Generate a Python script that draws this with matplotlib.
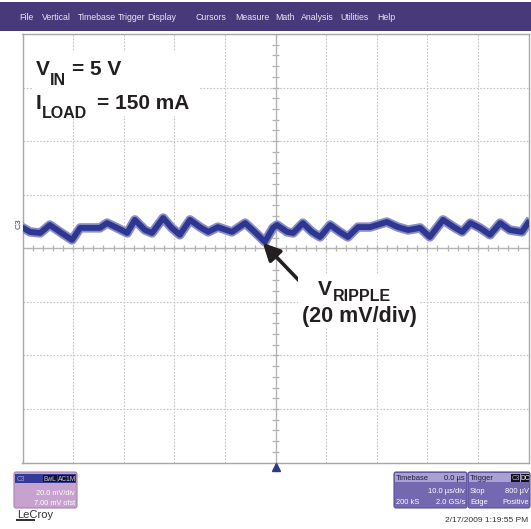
import numpy as np
import matplotlib.pyplot as plt
from matplotlib.patches import Rectangle, FancyBboxPatch

W, H = 531, 529

# Channel 3 ripple trace (time in us, level in mV)
trace_t = [-49.9, -48.5, -46.5, -44.6, -42.6, -40.2, -38.6, -36.7, -34.7, -33.3,
           -31.3, -29.3, -27.8, -25.8, -24.4, -22.2, -20.5, -18.9, -16.9, -14.9,
           -13.3, -11.4, -8.6, -6.0, -4.1, -2.1, -0.5, 0.3, 2.3, 3.5,
           5.4, 7.2, 8.8, 10.8, 12.7, 14.3, 16.3, 18.7, 22.0, 24.2,
           26.2, 28.6, 30.5, 33.1, 35.5, 36.9, 38.5, 40.4, 42.4, 44.4,
           46.3, 48.7, 49.9]
trace_mv = [7.6, 6.1, 5.7, 8.7, 6.1, 3.1, 7.6, 7.6, 7.6, 9.4,
            7.6, 5.7, 10.6, 6.8, 5.7, 11.3, 7.6, 5.0, 10.6, 7.9,
            6.1, 7.9, 6.1, 9.4, 6.1, 2.4, 7.6, 8.7, 6.1, 5.7,
            9.4, 6.1, 4.2, 8.7, 6.1, 4.2, 7.9, 7.9, 9.8, 7.9,
            6.8, 7.6, 4.2, 10.6, 7.6, 6.1, 9.4, 7.6, 5.0, 9.4,
            6.8, 6.1, 9.4]

menu_items = ['File', 'Vertical', 'Timebase', 'Trigger', 'Display', 'Cursors',
              'Measure', 'Math', 'Analysis', 'Utilities', 'Help']
menu_x = [19, 42, 78, 118, 147, 196, 235, 275, 301, 340, 377]

t_div, mv_div = 10.0, 20.0
n_xdiv, n_ydiv = 10, 8

ui = ['Liberation Sans', 'DejaVu Sans']
bold = ['Liberation Sans', 'DejaVu Sans']


def px(x, y):
    return x / W, 1 - y / H


def prect(x0, y0, x1, y1, **kw):
    return Rectangle(px(x0, y1), (x1 - x0) / W, (y1 - y0) / H,
                     transform=fig.transFigure, **kw)


def ptext(x, y, s, **kw):
    kw.setdefault('va', 'baseline')
    return fig.text(*px(x, y), s, **kw)


fig = plt.figure(figsize=(W / 100, H / 100), dpi=100)
fig.patch.set_facecolor('white')

left, right, top, bottom = 22.5, 528.5, 34, 462.5
ax = fig.add_axes([left / W, 1 - bottom / H, (right - left) / W, (bottom - top) / H])
xlim = n_xdiv / 2 * t_div
ylim = n_ydiv / 2 * mv_div
ax.set_xlim(-xlim, xlim)
ax.set_ylim(-ylim, ylim)
ax.set_xticks([])
ax.set_yticks([])
for s in ax.spines.values():
    s.set_color('#a8a8a8')
    s.set_linewidth(1.0)

# graticule
for k in range(1, n_xdiv):
    x = -xlim + k * t_div
    if k != n_xdiv // 2:
        ax.axvline(x, color='#c4c4c4', lw=0.8, ls=(0, (1.5, 1.5)), zorder=1)
for k in range(1, n_ydiv):
    y = -ylim + k * mv_div
    if k != n_ydiv // 2:
        ax.axhline(y, color='#c4c4c4', lw=0.8, ls=(0, (1.5, 1.5)), zorder=1)
ax.axhline(0, color='#b4b4b4', lw=1.0, zorder=1)
ax.axvline(0, color='#b4b4b4', lw=1.0, zorder=1)
ax.vlines(np.arange(-xlim, xlim + 0.1, t_div / 5), -1.1, 1.1, color='#b4b4b4', lw=0.9, zorder=1)
ax.hlines(np.arange(-ylim, ylim + 0.1, mv_div / 5), -0.6, 0.6, color='#b4b4b4', lw=0.9, zorder=1)

# white panels behind the annotation text
fig.patches.append(prect(33, 52, 200, 116, facecolor='white', edgecolor='none', zorder=2))
fig.patches.append(prect(298, 275, 420, 328, facecolor='white', edgecolor='none', zorder=2))

# trace
ax.plot(trace_t, trace_mv, color='#8a8dcc', lw=6.8, zorder=3)
ax.plot(trace_t, trace_mv, color='#2e3790', lw=4.2, zorder=4)

# trigger marker
ax.plot([0], [-81.8], marker='^', color='#2e3790', ms=6, clip_on=False, zorder=5)

# arrow to the ripple
ax.annotate('', xy=(-2.5, 2.0), xytext=(6.8, -16.3),
            arrowprops=dict(arrowstyle='-|>', lw=2.6, color='#231f20',
                            mutation_scale=26, shrinkA=0, shrinkB=0), zorder=6)

# annotation text
tc = '#231f20'
big, sub = 15, 11.5
ptext(36, 75, 'V', fontsize=big, fontweight='bold', family=bold, color=tc, zorder=5)
ptext(50, 85, 'IN', fontsize=sub, fontweight='bold', family=bold, color=tc, zorder=5)
ptext(72, 75, '= 5 V', fontsize=big, fontweight='bold', family=bold, color=tc, zorder=5)
ptext(36, 109, 'I', fontsize=big, fontweight='bold', family=bold, color=tc, zorder=5)
ptext(42, 118, 'LOAD', fontsize=sub, fontweight='bold', family=bold, color=tc, zorder=5)
ptext(97, 109, '= 150 mA', fontsize=big, fontweight='bold', family=bold, color=tc, zorder=5)
ptext(318, 295, 'V', fontsize=big, fontweight='bold', family=bold, color=tc, zorder=5)
ptext(333, 301, 'RIPPLE', fontsize=11.5, fontweight='bold', family=bold, color=tc, zorder=5)
ptext(302, 322, '(20 mV/div)', fontsize=15.5, fontweight='bold', family=bold, color=tc, zorder=5)

# C3 channel marker at left
ptext(19, 224, 'C3', fontsize=6, family=ui, color='#3a3f9a', rotation=90,
      ha='center', va='center')

# menu bar
fig.patches.append(prect(0, 2, W, 31, facecolor='#48397a', edgecolor='none'))
for name, x in zip(menu_items, menu_x):
    ptext(x, 20, name, fontsize=6.3, family=ui, color='#e8e6f0')

# channel box, lower left
fig.patches.append(FancyBboxPatch(px(14, 508), 63 / W, 36 / H, boxstyle='round,pad=0,rounding_size=0.004',
                                  transform=fig.transFigure, facecolor='#c7a2cf',
                                  edgecolor='#a583b7', lw=0.8))
fig.patches.append(prect(15, 474, 76, 483, facecolor='#343a98', edgecolor='none'))
fig.patches.append(prect(43, 475, 57, 482, facecolor='#111133', edgecolor='none'))
fig.patches.append(prect(58, 475, 75.5, 482, facecolor='#111133', edgecolor='none'))
ptext(17, 481, 'C3', fontsize=4.8, family=ui, color='#9fa4d8')
ptext(50, 481, 'BwL', fontsize=4.8, family=ui, color='#c8c8dc', ha='center')
ptext(66.7, 481, 'AC1M', fontsize=4.8, family=ui, color='#c8c8dc', ha='center')
ptext(75, 495, '20.0 mV/div', fontsize=5.3, family=ui, color='white', ha='right')
ptext(75, 505, '7.00 mV ofst', fontsize=5.3, family=ui, color='white', ha='right')

# LeCroy
ptext(17, 518, 'LeCroy', fontsize=8, family=ui, color='#333333')
fig.patches.append(prect(16, 519, 35, 520.5, facecolor='#333333', edgecolor='none'))

# timebase and trigger boxes, lower right
for x0, x1 in [(394, 467), (468, 530)]:
    fig.patches.append(FancyBboxPatch(px(x0, 508), (x1 - x0) / W, 36 / H,
                                      boxstyle='round,pad=0,rounding_size=0.004',
                                      transform=fig.transFigure, facecolor='#7468b0',
                                      edgecolor='#5a4f96', lw=0.8))
    fig.patches.append(prect(x0 + 1, 473, x1 - 1, 482, facecolor='#aaa0d4', edgecolor='none'))

fs = 5.4
ptext(396, 480, 'Timebase', fontsize=fs, family=ui, color='#1e1a3a')
ptext(465, 480, '0.0 \u00b5s', fontsize=fs, family=ui, color='#1e1a3a', ha='right')
ptext(465, 493, '10.0 \u00b5s/div', fontsize=fs, family=ui, color='white', ha='right')
ptext(396, 504, '200 kS', fontsize=fs, family=ui, color='white')
ptext(465, 504, '2.0 GS/s', fontsize=fs, family=ui, color='white', ha='right')

ptext(470, 480, 'Trigger', fontsize=fs, family=ui, color='#1e1a3a')
fig.patches.append(prect(511, 474, 520, 481.5, facecolor='#111111', edgecolor='none'))
fig.patches.append(prect(520.5, 474, 529, 481.5, facecolor='#111111', edgecolor='none'))
ptext(515.5, 480, 'C3', fontsize=4.8, family=ui, color='#b0b4e0', ha='center')
ptext(524.8, 480, 'DC', fontsize=4.8, family=ui, color='white', ha='center')
ptext(470, 493, 'Stop', fontsize=fs, family=ui, color='white')
ptext(529, 493, '800 \u00b5V', fontsize=fs, family=ui, color='white', ha='right')
ptext(470, 504, 'Edge', fontsize=fs, family=ui, color='white')
ptext(529, 504, 'Positive', fontsize=fs, family=ui, color='white', ha='right')

ptext(528, 522, '2/17/2009 1:19:55 PM', fontsize=6, family=ui, color='#333333', ha='right')

fig.savefig('out.png', dpi=100, facecolor='white')
